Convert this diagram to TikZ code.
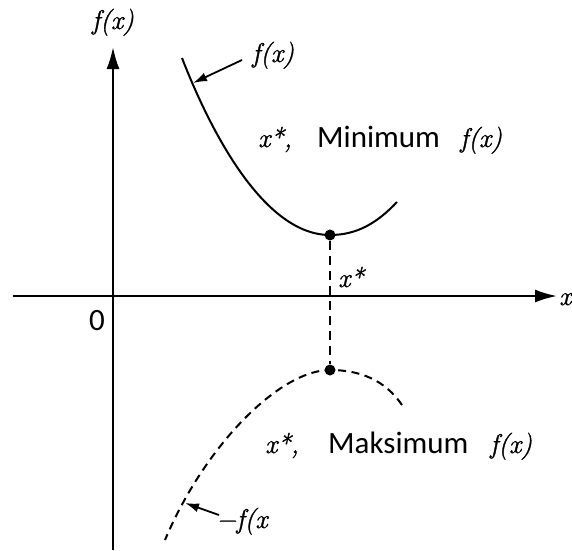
\documentclass[tikz,border=0pt]{standalone}
\usepackage{fontspec}
\newfontfamily\lmif{Latin Modern Roman}[FakeBold=1.2]
\newfontfamily\sansf{Carlito}
\usetikzlibrary{arrows.meta}
\tikzset{
  axis/.style={line width=2.2pt,-{Latex[length=22pt,width=13pt]}},
  curve/.style={line width=2pt},
  dcurve/.style={line width=2pt,dash pattern=on 8pt off 5.5pt},
  ptr/.style={line width=1.8pt,-{Latex[length=14pt,width=9pt]}},
  dot/.style={circle,fill=black,inner sep=0pt,minimum size=11pt},
  mlab/.style={inner sep=0pt,font=\lmif\itshape\fontsize{27}{32}\selectfont},
  slab/.style={inner sep=0pt,font=\sansf\fontsize{31}{36}\selectfont},
}
\begin{document}
\begin{tikzpicture}[x=1pt,y=-1pt]
\useasboundingbox (0,0) rectangle (572,550);
% axes
\coordinate (ybot) at (113,550);
\coordinate (ytop) at (113,47);
\coordinate (xl) at (13,296);
\coordinate (xr) at (557,296);
\draw[axis] (ybot) -- (ytop);
\draw[axis] (xl) -- (xr);
\node[mlab,anchor=base] (fxtop) at (113,29) {f(x)};
\node[mlab,anchor=base west] (xlab) at (559,305) {x};
\node[slab] (zero) at (97,321) {0};
% minimum curve
\node[dot] (pmin) at (330,235) {};
\draw[curve] (182,58) .. controls (212,135) and (265,235) .. (pmin.center)
  .. controls (358,235) and (378,222) .. (397,202);
% maximum curve
\node[dot] (pmax) at (330,370) {};
\draw[dcurve] (402,405) .. controls (385,380) and (360,370) .. (pmax.center)
  .. controls (280,370) and (205,445) .. (165,540);
% vertical dashed
\draw[line width=2pt,dash pattern=on 9pt off 6pt] (pmin) -- (pmax);
\node[mlab,anchor=base west] (xs) at (338,287) {x*};
% labels
\node[mlab,anchor=base west] (fxc) at (252,62) {f(x)};
\coordinate (fxtip) at (193,83);
\coordinate (fxtail) at (242,60);
\draw[ptr] (fxtail) -- (fxtip);
\node[mlab,anchor=base west] (mfx) at (216,528) {−f(x};
\coordinate (mtip) at (185,503);
\coordinate (mtail) at (219,515);
\draw[ptr] (mtail) -- (mtip);
\node[mlab,anchor=base west] (xs1) at (258,147) {x*,};
\node[slab,anchor=base west] (minw) at (317,147) {Minimum};
\node[mlab,anchor=base west] (fx1) at (460,147) {f(x)};
\node[mlab,anchor=base west] (xs2) at (265,453) {x*,};
\node[slab,anchor=base west] (maxw) at (328,453) {Maksimum};
\node[mlab,anchor=base west] (fx2) at (490,453) {f(x)};
\end{tikzpicture}
\end{document}
